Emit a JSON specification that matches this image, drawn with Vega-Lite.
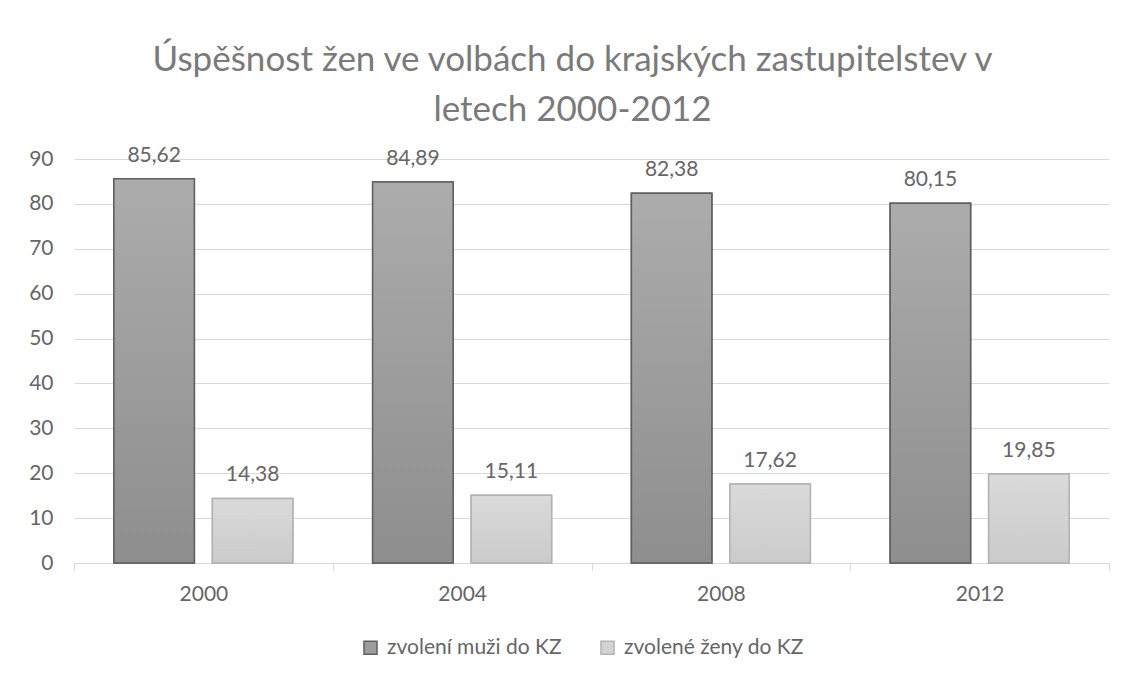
{
  "$schema": "https://vega.github.io/schema/vega-lite/v6.json",
  "width": 1035,
  "height": 404,
  "autosize": "none",
  "padding": {"left": 74, "top": 159, "right": 17, "bottom": 114},
  "background": "white",
  "config": {
    "font": "Lato",
    "view": {"stroke": null},
    "locale": {"number": {"decimal": ",", "thousands": " ", "grouping": [3], "currency": ["", " Kč"]}}
  },
  "title": {
    "text": ["Úspěšnost žen ve volbách do krajských zastupitelstev v", "letech 2000-2012"],
    "font": "Lato",
    "fontSize": 35,
    "fontWeight": "normal",
    "color": "#7a7a7a",
    "anchor": "middle",
    "dx": -19,
    "offset": 17,
    "lineHeight": 50
  },
  "data": {
    "values": [
      {"year": "2000", "series": "zvolení muži do KZ", "value": 85.62},
      {"year": "2000", "series": "zvolené ženy do KZ", "value": 14.38},
      {"year": "2004", "series": "zvolení muži do KZ", "value": 84.89},
      {"year": "2004", "series": "zvolené ženy do KZ", "value": 15.11},
      {"year": "2008", "series": "zvolení muži do KZ", "value": 82.38},
      {"year": "2008", "series": "zvolené ženy do KZ", "value": 17.62},
      {"year": "2012", "series": "zvolení muži do KZ", "value": 80.15},
      {"year": "2012", "series": "zvolené ženy do KZ", "value": 19.85}
    ]
  },
  "encoding": {
    "x": {
      "field": "year",
      "type": "nominal",
      "scale": {"paddingInner": 0, "paddingOuter": 0},
      "axis": {
        "title": null,
        "labelAngle": 0,
        "labelFont": "Lato",
        "labelFontSize": 21,
        "labelColor": "#666666",
        "labelPadding": 13,
        "domainColor": "#d9d9d9",
        "domainWidth": 1,
        "tickColor": "#d9d9d9",
        "tickSize": 7,
        "tickBand": "extent",
        "grid": false
      }
    },
    "xOffset": {
      "field": "series",
      "type": "nominal",
      "scale": {"domain": ["zvolení muži do KZ", "zvolené ženy do KZ"], "paddingInner": 0.183, "paddingOuter": 0.405}
    },
    "y": {
      "field": "value",
      "type": "quantitative",
      "scale": {"domain": [0, 90], "nice": false},
      "axis": {
        "title": null,
        "tickCount": 9,
        "domain": false,
        "ticks": false,
        "labelFont": "Lato",
        "labelFontSize": 21,
        "labelColor": "#666666",
        "labelPadding": 21,
        "gridColor": "#d9d9d9",
        "gridWidth": 1
      }
    }
  },
  "layer": [
    {
      "mark": {"type": "bar", "strokeWidth": 1.5},
      "encoding": {
        "color": {
          "field": "series",
          "type": "nominal",
          "scale": {"domain": ["zvolení muži do KZ", "zvolené ženy do KZ"], "range": ["#9d9d9d", "#d3d3d3"]},
          "legend": {
            "title": null,
            "orient": "none",
            "legendX": 286,
            "legendY": 478,
            "direction": "horizontal",
            "symbolType": "square",
            "symbolSize": 170,
            "symbolStrokeWidth": 1.5,
            "labelFont": "Lato",
            "labelFontSize": 21,
            "labelColor": "#666666",
            "labelOffset": 6,
            "labelLimit": 400,
            "columnPadding": 35
          }
        },
        "stroke": {
          "field": "series",
          "type": "nominal",
          "scale": {"domain": ["zvolení muži do KZ", "zvolené ženy do KZ"], "range": ["#5f5f5f", "#b3b3b3"]},
          "legend": {
            "title": null,
            "orient": "none",
            "legendX": 286,
            "legendY": 478,
            "direction": "horizontal",
            "symbolType": "square",
            "symbolSize": 170,
            "symbolStrokeWidth": 1.5,
            "labelFont": "Lato",
            "labelFontSize": 21,
            "labelColor": "#666666",
            "labelOffset": 6,
            "labelLimit": 400,
            "columnPadding": 35
          }
        }
      }
    },
    {
      "transform": [{"filter": "datum.series === 'zvolení muži do KZ'"}],
      "mark": {
        "type": "bar",
        "stroke": "#5f5f5f",
        "strokeWidth": 1.5,
        "fill": {"gradient": "linear", "x1": 0, "y1": 0, "x2": 0, "y2": 1, "stops": [{"offset": 0, "color": "#acacac"}, {"offset": 1, "color": "#8e8e8e"}]}
      }
    },
    {
      "transform": [{"filter": "datum.series === 'zvolené ženy do KZ'"}],
      "mark": {
        "type": "bar",
        "stroke": "#b3b3b3",
        "strokeWidth": 1.5,
        "fill": {"gradient": "linear", "x1": 0, "y1": 0, "x2": 0, "y2": 1, "stops": [{"offset": 0, "color": "#dadada"}, {"offset": 1, "color": "#cbcbcb"}]}
      }
    },
    {
      "mark": {"type": "text", "font": "Lato", "fontSize": 21, "color": "#666666", "baseline": "alphabetic", "dy": -17},
      "encoding": {
        "text": {"field": "value", "type": "quantitative", "format": ".2f"}
      }
    }
  ]
}
